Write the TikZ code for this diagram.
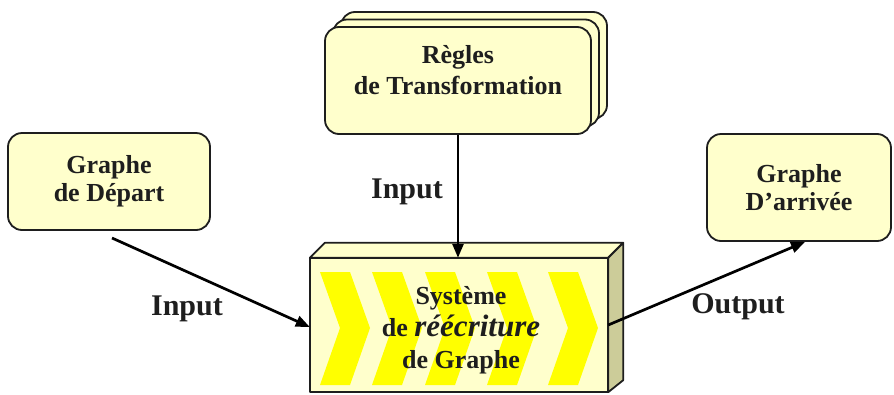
\documentclass[tikz,border=0pt]{standalone}
\usepackage{fontspec}
\setmainfont{Liberation Serif}
\usetikzlibrary{arrows.meta,calc}
\definecolor{boxfill}{HTML}{FFFFCC}
\definecolor{sidefill}{HTML}{CCCC99}
\definecolor{edgec}{HTML}{1E1E1E}
\definecolor{chev}{HTML}{FFFF00}
\begin{document}
\begin{tikzpicture}[x=1pt,y=-1pt,
  gbox/.style={draw=edgec, line width=1.8pt, fill=boxfill, rounded corners=14pt, inner sep=0pt},
  btext/.style={align=center, font=\fontsize{26}{28}\selectfont\bfseries, text=edgec},
  lbl/.style={font=\fontsize{30}{33}\selectfont\bfseries, text=edgec, anchor=base},
  arr/.style={line width=2.7pt, draw=black, -{Triangle[length=14pt,width=11pt]}},
  face/.style={draw=edgec, line width=1.8pt, line join=round},
  chevron/.style={fill=chev, draw=none}]
\useasboundingbox (0,0) rectangle (894,394);

% Graphe de Depart
\node[gbox, btext, minimum width=202pt, minimum height=97pt] (dep) at (109,181.5) {Graphe\\de Départ};
% Graphe D'arrivee
\node[gbox, btext, minimum width=184pt, minimum height=107pt] (arv) at (799,187.5) {Graphe\\D’arrivée};

% Regles de Transformation (stack)
\node[gbox, minimum width=266pt, minimum height=107pt] (rb2) at (474,65.5) {};
\node[gbox, minimum width=266pt, minimum height=107pt] (rb1) at (466,73) {};
\node[gbox, minimum width=266pt, minimum height=107pt] (rules) at (458,80.5) {};
\node[btext, font=\fontsize{26}{31}\selectfont\bfseries] (rtext) at (458,70) {Règles\\de Transformation};

% Main 3D box
\node[draw=none, fill=boxfill, minimum width=298pt, minimum height=134pt, inner sep=0pt] (sys) at (459,325) {};
\coordinate (tl) at (sys.north west);
\coordinate (tr) at (sys.north east);
\coordinate (br) at (sys.south east);
\filldraw[face, fill=boxfill] (tl) -- ++(15,-15) -- ($(tr)+(15,-15)$) -- (tr) -- cycle;
\filldraw[face, fill=sidefill] (tr) -- ++(15,-15) -- ($(br)+(15,-12)$) -- (br) -- cycle;
\foreach \x in {320,372,425,487,548}{
  \fill[chevron] (\x,272) -- (\x+30,272) -- (\x+50,328) -- (\x+30,385) -- (\x,385) -- (\x+20,328) -- cycle;
}
\draw[face] (sys.north west) rectangle (sys.south east);
\node[align=center, font=\fontsize{26}{32}\selectfont\bfseries, text=edgec] (stext) at (461,330)
  {Système\\de {\fontsize{31}{32}\selectfont\itshape réécriture}\\de Graphe};

% Connectors
\coordinate (a1s) at (112,238);
\draw[arr] (a1s) -- ($(sys.west)+(0,2)$);
\draw[arr] (rules.south) -- (rules.south |- sys.north);
\draw[arr] (sys.east) -- ($(arv.south)+(6,0)$);

% Labels
\node[lbl] (l1) at (187,315) {Input};
\node[lbl] (l2) at (407,198) {Input};
\node[lbl] (l3) at (738,313) {Output};
\end{tikzpicture}
\end{document}
